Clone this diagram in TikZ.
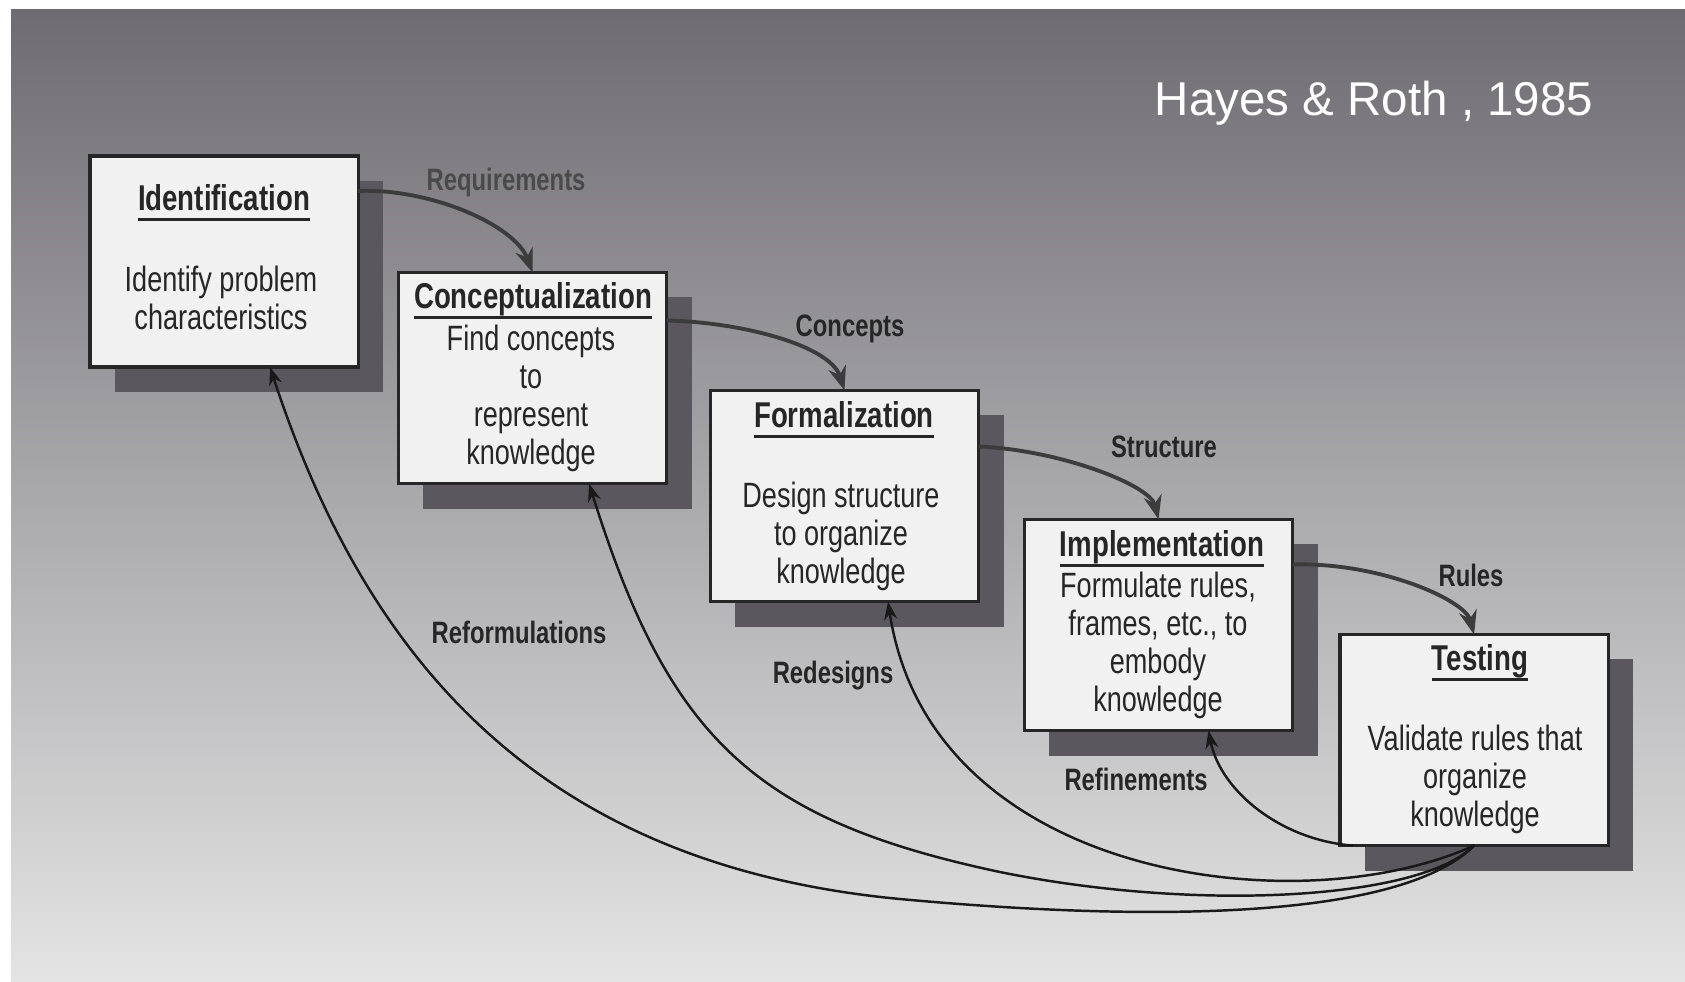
\documentclass[tikz,border=0pt]{standalone}
\usepackage{fontspec}
\setmainfont{Liberation Sans}
\newfontfamily\cond{Liberation Sans}[FakeStretch=0.77]
\usetikzlibrary{arrows.meta,shadows}
\definecolor{bgtop}{HTML}{6E6C72}
\definecolor{bgmid}{HTML}{A9A8AB}
\definecolor{bgbot}{HTML}{E4E4E4}
\definecolor{shadowc}{HTML}{5A575E}
\definecolor{boxfill}{HTML}{F1F1F1}
\definecolor{ink}{HTML}{262626}
\definecolor{fwd}{HTML}{3C3C3C}
\definecolor{faint}{HTML}{4A4A4A}
\newcommand\ttlline[1]{\sbox0{#1}\rlap{\usebox0}\rule[-3pt]{\wd0}{0.85pt}}
\begin{document}
\begin{tikzpicture}[x=0.01cm,y=-0.01cm,
  stage/.style={draw=ink, line width=0.9pt, fill=boxfill, minimum width=2.68cm, minimum height=2.11cm, inner sep=0pt, outer sep=0pt,
    drop shadow={fill=shadowc, opacity=1, shadow xshift=0.25cm, shadow yshift=-0.25cm}},
  ttl/.style={font=\cond\bfseries\fontsize{10.2}{12}\selectfont, text=ink, inner sep=0pt},
  body/.style={font=\cond\fontsize{10}{10.8}\selectfont, text=ink, align=center, inner sep=0pt},
  lbl/.style={font=\cond\bfseries\fontsize{8.8}{10}\selectfont, text=ink, inner sep=0pt},
  fwdarrow/.style={draw=fwd, line width=1.1pt, -{Stealth[length=2.4mm,width=1.8mm]}},
  backarrow/.style={draw=black!90, line width=0.7pt, -{Stealth[length=1.8mm,width=1.3mm]}},
]
\useasboundingbox (0,0) rectangle (1685,981);
\fill[white] (0,0) rectangle (1685,981);
\shade[top color=bgtop, middle color=bgmid, bottom color=bgbot] (11,9) rectangle (1685,981);

\node[text=white, font=\fontsize{13.5}{16}\selectfont, inner sep=0pt] (cite) at (1374,103) {Hayes \& Roth , 1985};

% stages
\node[stage] (ident) at (224,261.5) {};
\node[stage] (conc) at (532.5,378) {};
\node[stage] (form) at (844.5,496) {};
\node[stage] (impl) at (1158.5,625) {};
\node[stage] (test) at (1474,740) {};

\node[ttl] (identt) at (224,203) {\ttlline{Identification}};
\node[body] (identb) at (221,298) {Identify problem\\characteristics};
\node[ttl] (conct) at (533,301) {\ttlline{Conceptualization}};
\node[body] (concb) at (531,398) {Find concepts\\to\\represent\\knowledge};
\node[ttl] (formt) at (844,420) {\ttlline{Formalization}};
\node[body] (formb) at (841,536) {Design structure\\to organize\\knowledge};
\node[ttl] (implt) at (1162,549) {\ttlline{Implementation}};
\node[body] (implb) at (1158,645) {Formulate rules,\\frames, etc., to\\embody\\knowledge};
\node[ttl] (testt) at (1480,663) {\ttlline{Testing}};
\node[body] (testb) at (1475,779) {Validate rules that\\organize\\knowledge};

% forward arrows
\draw[fwdarrow] ([yshift=-0.35cm]ident.north east) .. controls (430,188) and (515,225) .. (conc.north);
\draw[fwdarrow] ([yshift=-0.48cm]conc.north east) .. controls (740,322) and (830,345) .. (form.north);
\draw[fwdarrow] ([yshift=-0.56cm]form.north east) .. controls (1060,450) and (1150,485) .. (impl.north);
\draw[fwdarrow] ([yshift=-0.45cm]impl.north east) .. controls (1380,562) and (1465,600) .. (test.north);

\node[lbl, text=faint] (lreq) at (506,182) {Requirements};
\node[lbl] (lcon) at (850,329) {Concepts};
\node[lbl] (lstr) at (1164,447) {Structure};
\node[lbl] (lrul) at (1471,575) {Rules};

% feedback arrows
\draw[backarrow] (test.south) .. controls (1400,920) and (1149,922) .. (900,899) .. controls (551,866) and (370,673) .. ([xshift=0.46cm]ident.south);
\draw[backarrow] (test.south) .. controls (1420,900) and (1196,912) .. (1000,872) .. controls (755,820) and (669,739) .. ([xshift=0.565cm]conc.south);
\draw[backarrow] (test.south) .. controls (1300,925) and (930,880) .. ([xshift=0.435cm]form.south);
\draw[backarrow] ([xshift=0.13cm]test.south west) .. controls (1280,840) and (1220,790) .. ([xshift=0.5cm]impl.south);

\node[lbl] (lref) at (519,632) {Reformulations};
\node[lbl] (lred) at (833,676) {Redesigns};
\node[lbl] (lfin) at (1136,779) {Refinements};
\end{tikzpicture}
\end{document}
